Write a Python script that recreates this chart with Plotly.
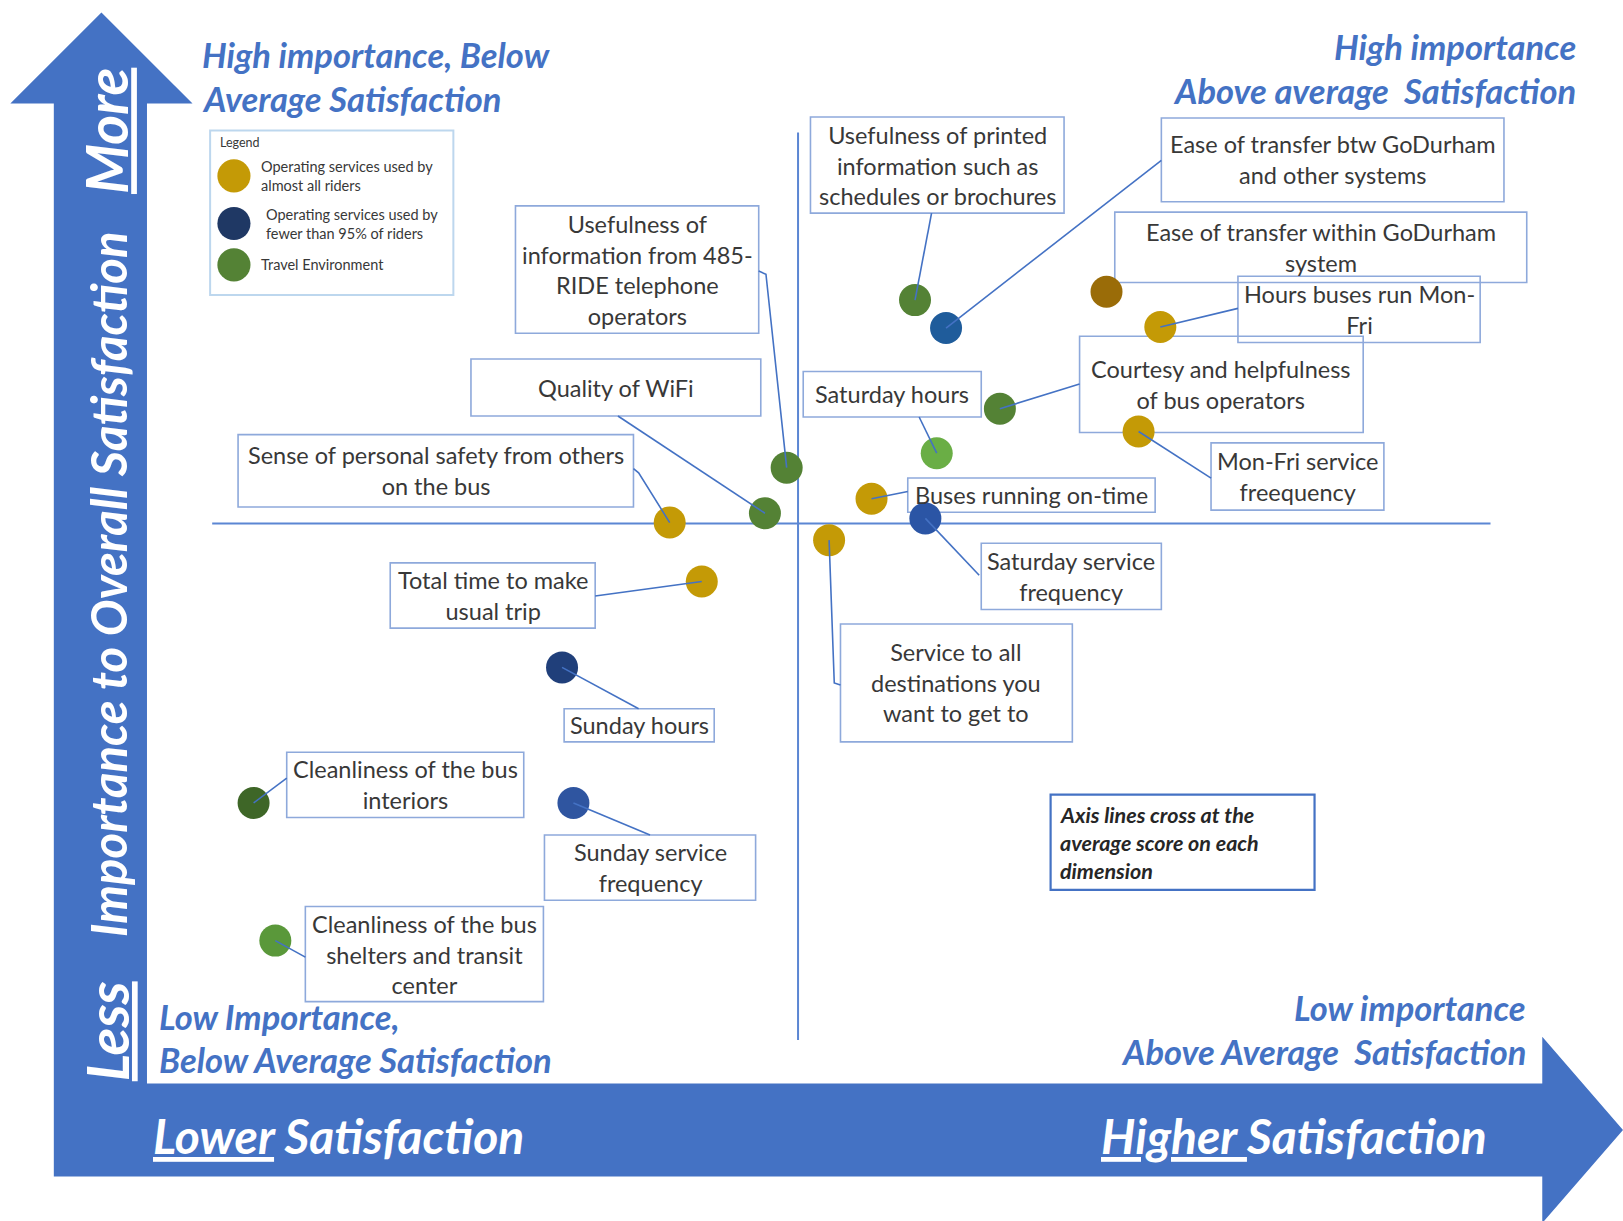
import plotly.graph_objects as go

# --- data ------------------------------------------------------------------
# satisfaction / importance measured from the overall average
# (0 = where the two axis lines cross), arbitrary units
labels = [
    "Usefulness of printed information such as schedules or brochures",
    "Ease of transfer btw GoDurham and other systems",
    "Ease of transfer within GoDurham system",
    "Hours buses run Mon-Fri",
    "Courtesy and helpfulness of bus operators",
    "Mon-Fri service freequency",
    "Saturday hours",
    "Buses running on-time",
    "Saturday service frequency",
    "Service to all destinations you want to get to",
    "Usefulness of information from 485-RIDE telephone operators",
    "Quality of WiFi",
    "Sense of personal safety from others on the bus",
    "Total time to make usual trip",
    "Sunday hours",
    "Cleanliness of the bus interiors",
    "Sunday service frequency",
    "Cleanliness of the bus shelters and transit center",
]
groups = [
    "travel", "fewer", "all", "all", "travel", "all", "travel", "all", "fewer",
    "all", "travel", "travel", "all", "all", "fewer", "travel", "fewer", "travel",
]
satisfaction = [1.13, 1.43, 2.98, 3.50, 1.95, 3.29, 1.34, 0.71, 1.23,
                0.30, -0.11, -0.32, -1.24, -0.93, -2.28, -5.26, -2.17, -5.05]
importance = [2.16, 1.89, 2.24, 1.90, 1.11, 0.89, 0.68, 0.24, 0.05,
              -0.16, 0.54, 0.10, 0.01, -0.56, -1.39, -2.70, -2.70, -4.03]

legend_names = {
    "all": "Operating services used by<br>almost all riders",
    "fewer": "Operating services used by<br>fewer than 95% of riders",
    "travel": "Travel Environment",
}

# --- styles -----------------------------------------------------------------
group_color = {"all": "#C49A06", "fewer": "#1F3864", "travel": "#548235"}
shade = {  # individual dot shades in the original
    "Ease of transfer btw GoDurham and other systems": "#1F5C9B",
    "Ease of transfer within GoDurham system": "#9A6C08",
    "Saturday hours": "#6AAE45",
    "Saturday service frequency": "#2B55A5",
    "Sunday hours": "#203F7A",
    "Cleanliness of the bus interiors": "#3E6627",
    "Sunday service frequency": "#2F55A0",
    "Cleanliness of the bus shelters and transit center": "#5A983A",
}
BLUE = "#4472C4"
BOX = "#8EA9DB"
TXT = "#383838"
FONT = "Lato"

# picture is laid out on a 1568 x 1180 grid, axis cross at (771, 506)
GW, GH = 1568, 1180
CX, CY, UNIT = 771, 506, 100


def px(x):
    return x / GW


def py(y):
    return 1 - y / GH


def dx(x):
    return (x - CX) / UNIT


def dy(y):
    return (CY - y) / UNIT


# label boxes: (x0, y0, x1, y1), text, leader points from box to dot
boxes = {
    labels[0]: ((783, 113, 1028, 206), "Usefulness of printed<br>information such as<br>schedules or brochures", [(900, 206)]),
    labels[1]: ((1122, 114, 1453, 195), "Ease of transfer btw GoDurham<br>and other systems", [(1122, 155)]),
    labels[2]: ((1077, 205, 1475, 273), "Ease of transfer within GoDurham<br>system", []),
    labels[3]: ((1196, 267, 1430, 331), "Hours buses run Mon-<br>Fri", [(1196, 298)]),
    labels[4]: ((1043, 325, 1317, 418), "Courtesy and helpfulness<br>of bus operators", [(1043, 371)]),
    labels[5]: ((1170, 428, 1337, 493), "Mon-Fri service<br>freequency", [(1170, 462)]),
    labels[6]: ((776, 359, 948, 403), "Saturday hours", [(888, 403)]),
    labels[7]: ((877, 462, 1116, 495), "Buses running on-time", [(877, 475)]),
    labels[8]: ((948, 525, 1122, 589), "Saturday service<br>frequency", [(946, 556)]),
    labels[9]: ((812, 603, 1036, 717), "Service to all<br>destinations you<br>want to get to", [(812, 662), (806, 660)]),
    labels[10]: ((498, 199, 733, 322), "Usefulness of<br>information from 485-<br>RIDE telephone<br>operators", [(733, 262), (740, 265)]),
    labels[11]: ((455, 347, 735, 402), "Quality of WiFi", [(597, 402)]),
    labels[12]: ((230, 420, 612, 490), "Sense of personal safety from others<br>on the bus", [(612, 453), (617, 457)]),
    labels[13]: ((377, 544, 575, 607), "Total time to make<br>usual trip", [(575, 576)]),
    labels[14]: ((545, 685, 690, 717), "Sunday hours", [(617, 685)]),
    labels[15]: ((277, 727, 506, 790), "Cleanliness of the bus<br>interiors", [(277, 752)]),
    labels[16]: ((526, 807, 730, 870), "Sunday service<br>frequency", [(628, 807)]),
    labels[17]: ((295, 876, 525, 968), "Cleanliness of the bus<br>shelters and transit<br>center", [(295, 925)]),
}

fig = go.Figure()

shapes = []
annotations = []

# big L-shaped arrow frame
arrow = [(98, 12), (186, 100), (142, 100), (142, 1047), (1490, 1047), (1490, 1002),
         (1568, 1092), (1490, 1182), (1490, 1137), (52, 1137), (52, 100), (10, 100)]
path = "M " + " L ".join(f"{px(x):.5f},{py(y):.5f}" for x, y in arrow) + " Z"
shapes.append(dict(type="path", path=path, xref="paper", yref="paper",
                   fillcolor=BLUE, line=dict(width=0), layer="below"))

# axis lines crossing at the average
shapes.append(dict(type="line", xref="x", yref="paper", x0=0, x1=0,
                   y0=py(1005), y1=py(128), line=dict(color="#5B86D3", width=2), layer="below"))
shapes.append(dict(type="line", xref="paper", yref="y", x0=px(205), x1=px(1440),
                   y0=0, y1=0, line=dict(color="#5B86D3", width=2), layer="below"))

# label boxes, texts and leader lines
for lab, sat, imp in zip(labels, satisfaction, importance):
    (x0, y0, x1, y1), text, pts = boxes[lab]
    shapes.append(dict(type="rect", xref="paper", yref="paper",
                       x0=px(x0), x1=px(x1), y0=py(y1), y1=py(y0),
                       line=dict(color=BOX, width=1.6), layer="below"))
    annotations.append(dict(x=px((x0 + x1) / 2), y=py((y0 + y1) / 2), xref="paper", yref="paper",
                            text=text, showarrow=False, xanchor="center", yanchor="middle",
                            align="center", font=dict(family=FONT, size=23.5, color=TXT)))
    if pts:
        seg = [(dx(x), dy(y)) for x, y in pts] + [(sat, imp)]
        p = "M " + " L ".join(f"{a:.4f},{b:.4f}" for a, b in seg)
        shapes.append(dict(type="path", path=p, xref="x", yref="y",
                           line=dict(color=BLUE, width=1.6)))

# dots
for g in ["all", "fewer", "travel"]:
    idx = [i for i, gg in enumerate(groups) if gg == g]
    fig.add_trace(go.Scatter(
        x=[satisfaction[i] for i in idx],
        y=[importance[i] for i in idx],
        text=[labels[i] for i in idx],
        mode="markers",
        name=legend_names[g].replace("<br>", " "),
        marker=dict(size=32, color=[shade.get(labels[i], group_color[g]) for i in idx],
                    line=dict(width=0)),
        hovertemplate="%{text}<extra></extra>",
    ))

# legend box drawn by hand
shapes.append(dict(type="rect", xref="paper", yref="paper", x0=px(203), x1=px(438),
                   y0=py(285), y1=py(126), line=dict(color="#BDD7EE", width=2), layer="below"))
annotations.append(dict(x=px(211), y=py(138), xref="paper", yref="paper", text="Legend",
                        showarrow=False, xanchor="left", yanchor="middle",
                        font=dict(family=FONT, size=12.5, color=TXT)))
for g, cy, tx in [("all", 170, 250), ("fewer", 216, 255), ("travel", 256, 250)]:
    shapes.append(dict(type="circle", xref="paper", yref="paper",
                       x0=px(226 - 16), x1=px(226 + 16), y0=py(cy + 16), y1=py(cy - 16),
                       fillcolor=group_color[g], line=dict(width=0)))
    annotations.append(dict(x=px(tx), y=py(cy), xref="paper", yref="paper", text=legend_names[g],
                            showarrow=False, xanchor="left", yanchor="middle", align="left",
                            font=dict(family=FONT, size=14.5, color=TXT)))

# note box
shapes.append(dict(type="rect", xref="paper", yref="paper", x0=px(1015), x1=px(1270),
                   y0=py(860), y1=py(768), line=dict(color=BLUE, width=2.2)))
for t, yy in [("Axis lines cross at the", 788), ("average score on each", 815), ("dimension", 842)]:
    annotations.append(dict(x=px(1022), y=py(yy), xref="paper", yref="paper", text=t,
                            showarrow=False, xanchor="left", yanchor="middle",
                            font=dict(family=FONT, size=21.5, color="#262626", weight="bold", style="italic")))

# quadrant captions
quad = [
    ("High importance, Below", 193, 53, "left"),
    ("Average Satisfaction", 193, 95, "left"),
    ("High importance", 1525, 45, "right"),
    ("Above average \u00a0Satisfaction", 1525, 87, "right"),
    ("Low Importance,", 152, 982, "left"),
    ("Below Average Satisfaction", 152, 1024, "left"),
    ("Low importance", 1476, 974, "right"),
    ("Above Average \u00a0Satisfaction", 1476, 1016, "right"),
]
for t, xx, yy, anc in quad:
    annotations.append(dict(x=px(xx), y=py(yy), xref="paper", yref="paper", text=t,
                            showarrow=False, xanchor=anc, yanchor="middle",
                            font=dict(family=FONT, size=34.5, color=BLUE, weight="bold", style="italic")))

# arrow titles
white = dict(family=FONT, color="white", weight="bold", style="italic")
annotations += [
    dict(x=px(103), y=py(127), text="<u>More</u>", textangle=-90, font=dict(size=57, **white)),
    dict(x=px(104), y=py(565), text="Importance to Overall Satisfaction", textangle=-90,
         font=dict(size=49, **white)),
    dict(x=px(103), y=py(997), text="<u>Less</u>", textangle=-90, font=dict(size=57, **white)),
    dict(x=px(146), y=py(1097), text="<u>Lower</u> Satisfaction", xanchor="left",
         font=dict(size=48, **white)),
    dict(x=px(1062), y=py(1097), text="<u>Higher </u>Satisfaction", xanchor="left",
         font=dict(size=48, **white)),
]
for a in annotations[-5:]:
    a.update(xref="paper", yref="paper", showarrow=False, yanchor="middle")
    a.setdefault("xanchor", "center")

fig.update_layout(
    width=1623, height=1221,
    margin=dict(l=0, r=0, t=0, b=0),
    paper_bgcolor="white", plot_bgcolor="white",
    showlegend=False,
    shapes=shapes, annotations=annotations,
    xaxis=dict(range=[dx(0), dx(GW)], visible=False, fixedrange=True),
    yaxis=dict(range=[dy(GH), dy(0)], visible=False, fixedrange=True),
)

fig.write_html("out.html", config={"displayModeBar": False},
               post_script="document.body.style.margin='0';")
